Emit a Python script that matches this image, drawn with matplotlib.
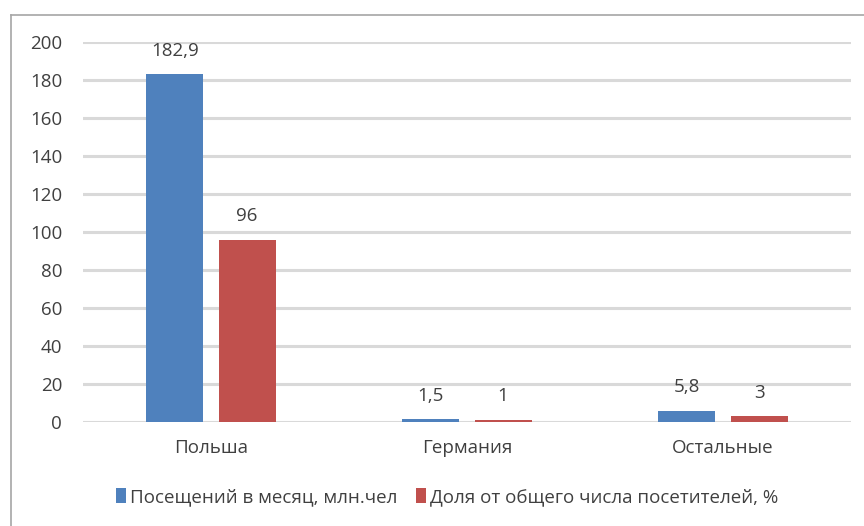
import numpy as np
import matplotlib
matplotlib.use("Agg")
import matplotlib.pyplot as plt
from matplotlib.lines import Line2D

# Datos
categories = ["Польша", "Германия", "Остальные"]
visits = [182.9, 1.5, 5.8]
share = [96, 1, 3]
visit_labels = ["182,9", "1,5", "5,8"]
share_labels = ["96", "1", "3"]
series_names = ["Посещений в месяц, млн.чел", "Доля от общего числа посетителей, %"]

BLUE = "#4f81bd"
RED = "#c0504d"
TEXT = "#404040"
FS = 13.5

plt.rcParams['font.family'] = ['Open Sans', 'DejaVu Sans']

fig = plt.figure(figsize=(8.64, 5.26), dpi=100)
ax = fig.add_axes([83 / 864, 1 - 422 / 526, (851 - 83) / 864, (422 - 42) / 526])

x = np.arange(len(categories))
w = 0.223
off = 0.141
b1 = ax.bar(x - off, visits, w, color=BLUE, zorder=3, label=series_names[0])
b2 = ax.bar(x + off, share, w, color=RED, zorder=3, label=series_names[1])

for rect, lab in zip(b1, visit_labels):
    ax.annotate(lab, (rect.get_x() + rect.get_width() / 2, rect.get_height()),
                xytext=(0, 17), textcoords="offset points", ha="center", va="center",
                fontsize=FS, color=TEXT)
for rect, lab in zip(b2, share_labels):
    ax.annotate(lab, (rect.get_x() + rect.get_width() / 2, rect.get_height()),
                xytext=(0, 17), textcoords="offset points", ha="center", va="center",
                fontsize=FS, color=TEXT)

ax.set_xlim(-0.5, 2.5)
ax.set_ylim(0, 200)
ax.set_yticks(range(0, 201, 20))
ax.set_xticks(x)
ax.set_xticklabels(categories)
ax.tick_params(axis="both", length=0, labelsize=FS, labelcolor=TEXT)
ax.tick_params(axis="y", pad=15)
ax.tick_params(axis="x", pad=12)
ax.grid(axis="y", color="#d9d9d9", linewidth=2.2, zorder=0)
ax.set_axisbelow(True)
for s in ax.spines.values():
    s.set_visible(False)

ax.legend(loc="center", bbox_to_anchor=(447 / 864, 1 - 497 / 526), bbox_transform=fig.transFigure,
          ncol=2, frameon=False, fontsize=FS, handlelength=0.55, handleheight=0.85,
          handletextpad=0.2, columnspacing=1.0, labelcolor=TEXT)

# рамка
fig.add_artist(Line2D([11 / 864, 1], [1 - 15 / 526, 1 - 15 / 526], color="#a6a6a6", linewidth=1.2))
fig.add_artist(Line2D([11 / 864, 11 / 864], [0, 1 - 15 / 526], color="#a6a6a6", linewidth=1.2))

fig.savefig("out.png", dpi=100)
